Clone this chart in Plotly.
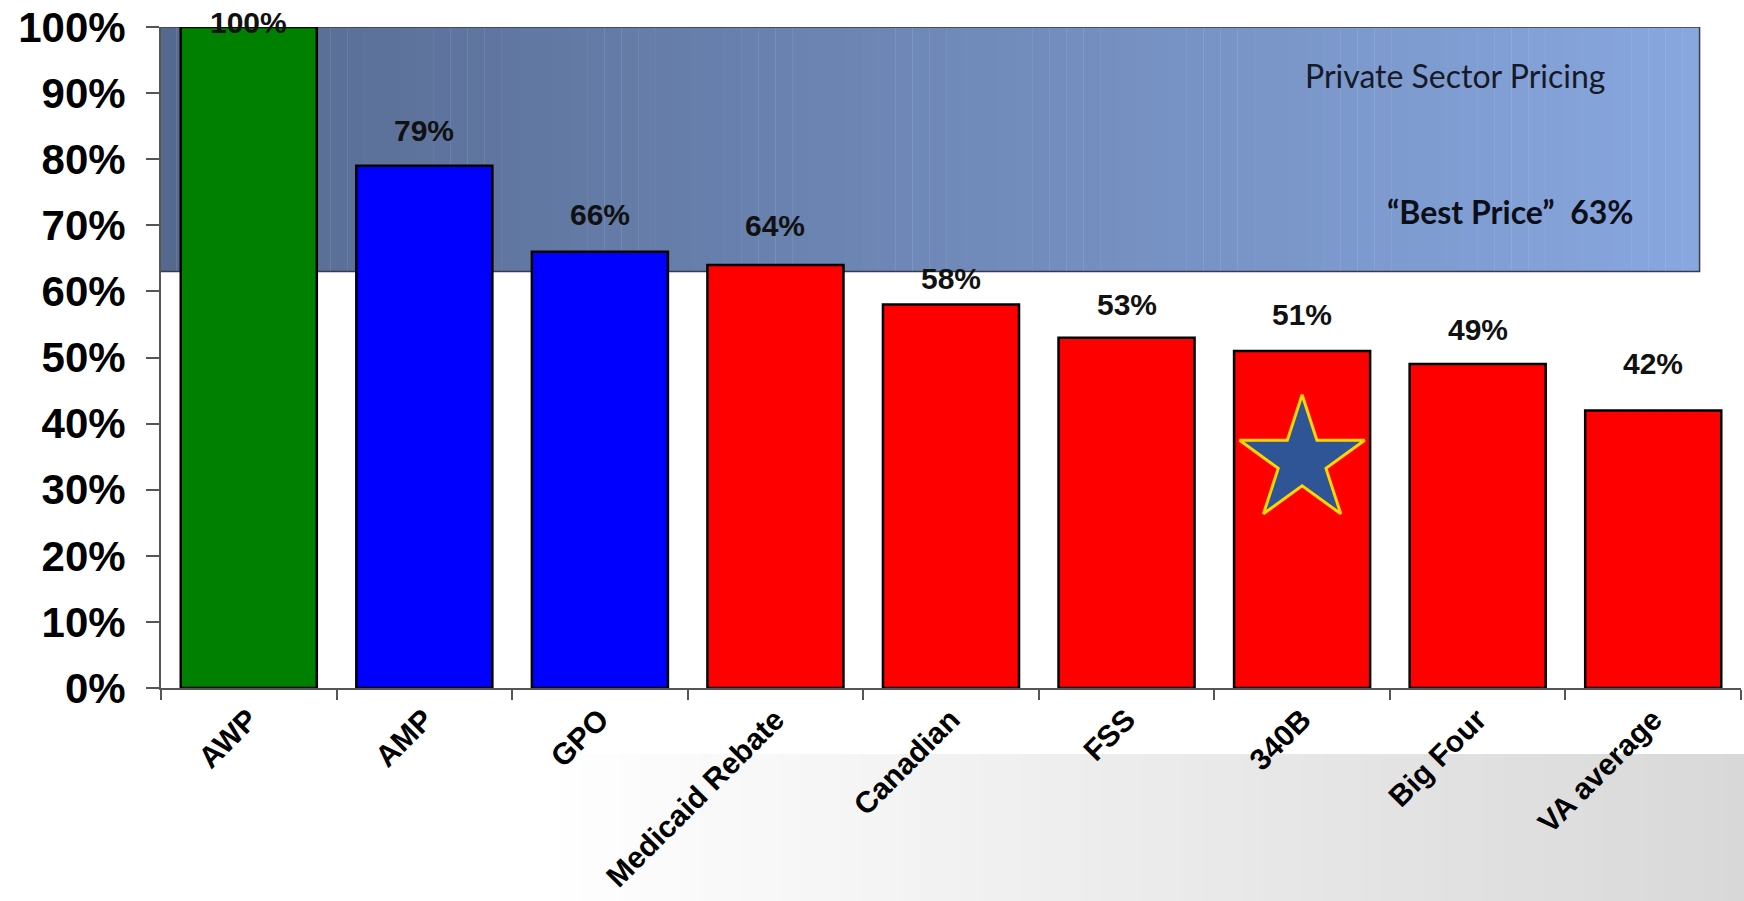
import plotly.graph_objects as go

# ---- data ----
categories = ["AWP", "AMP", "GPO", "Medicaid Rebate", "Canadian", "FSS", "340B", "Big Four", "VA average"]
values = [100, 79, 66, 64, 58, 53, 51, 49, 42]
bar_colors = ["#008000", "#0000ff", "#0000ff", "#ff0000", "#ff0000", "#ff0000", "#ff0000", "#ff0000", "#ff0000"]
y_ticks = [0, 10, 20, 30, 40, 50, 60, 70, 80, 90, 100]
best_price = 63
band_top = 100
band_title = "Private Sector Pricing"
band_label = "\u201cBest Price\u201d\u00a0\u00a0" + str(best_price) + "%"
star_category = "340B"
star_value = 34.4

# label lift above bar tops (styling, px)
label_lift_px = [5, 35, 37, 39, 26, 33, 36, 35, 47]

W, H = 1744, 901
ML, MR, MT, MB = 161, 3, 27, 213

fig = go.Figure()

fig.add_trace(go.Bar(
    x=categories, y=values,
    marker=dict(color=bar_colors, line=dict(color="#000000", width=2.5)),
    hoverinfo="x+y", showlegend=False,
))

fig.add_trace(go.Scatter(
    x=[star_category], y=[star_value], mode="markers",
    marker=dict(symbol="star", size=94, color="#2f5597",
                line=dict(color="#ffd700", width=3)),
    showlegend=False, hoverinfo="skip",
))

shapes = []

def lerp(c0, c1, t):
    return "rgb(%d,%d,%d)" % tuple(round(a + (b - a) * t) for a, b in zip(c0, c1))

# gradient band (Private Sector Pricing)
bx0, bx1 = -0.51, 8.264
n = 90
c_left, c_right = (85, 105, 143), (136, 167, 223)
for i in range(n):
    xa = bx0 + (bx1 - bx0) * i / n
    xb = bx0 + (bx1 - bx0) * (i + 1) / n + 0.002
    shapes.append(dict(type="rect", xref="x", yref="y", x0=xa, x1=xb,
                       y0=best_price, y1=band_top, layer="below",
                       fillcolor=lerp(c_left, c_right, (i + 0.5) / n),
                       line=dict(width=0)))
shapes.append(dict(type="rect", xref="x", yref="y", x0=bx0, x1=bx1,
                   y0=best_price, y1=band_top, layer="below",
                   fillcolor="rgba(0,0,0,0)", line=dict(color="#343c4e", width=1.5)))

# gray gradient footer
plot_w = W - ML - MR
plot_h = H - MT - MB
gx0 = (540 - ML) / plot_w
gx1 = (W - ML) / plot_w
gy1 = -(754 - (H - MB)) / plot_h
gy0 = -(MB + 2) / plot_h
m = 60
g_left, g_right = (255, 255, 255), (216, 216, 216)
for i in range(m):
    xa = gx0 + (gx1 - gx0) * i / m
    xb = gx0 + (gx1 - gx0) * (i + 1) / m + 0.001
    shapes.append(dict(type="rect", xref="paper", yref="paper", x0=xa, x1=xb,
                       y0=gy0, y1=gy1, layer="below",
                       fillcolor=lerp(g_left, g_right, (i + 0.5) / m),
                       line=dict(width=0)))

annotations = []
for cat, v, lift in zip(categories, values, label_lift_px):
    annotations.append(dict(x=cat, y=v, xref="x", yref="y", text=f"{v}%",
                            showarrow=False, yanchor="middle", yshift=lift,
                            font=dict(family="Arial, Liberation Sans", size=30,
                                      color="#111111", weight="bold")))

annotations.append(dict(x=(1455 - ML) / plot_w, y=(H - MB - 76) / plot_h,
                        xref="paper", yref="paper", text=band_title, showarrow=False,
                        xanchor="center", yanchor="middle",
                        font=dict(family="Lato", size=32, color="#161a26")))
annotations.append(dict(x=(1510 - ML) / plot_w, y=(H - MB - 211) / plot_h,
                        xref="paper", yref="paper", text=band_label, showarrow=False,
                        xanchor="center", yanchor="middle",
                        font=dict(family="Lato", size=32, color="#0d0f18", weight="bold")))

fig.update_layout(
    width=W, height=H,
    margin=dict(l=ML, r=MR, t=MT, b=MB, pad=0),
    plot_bgcolor="#ffffff", paper_bgcolor="#ffffff",
    bargap=0.225,
    shapes=shapes, annotations=annotations,
    showlegend=False,
    xaxis=dict(
        type="category", range=[-0.5, 8.5],
        showline=True, linecolor="#555555", linewidth=2,
        ticks="outside", tickson="boundaries", ticklen=10, tickcolor="#555555", tickwidth=1.5,
        tickangle=-45, showgrid=False,
        tickfont=dict(family="Arial, Liberation Sans", size=30, color="#000000", weight="bold"),
    ),
    yaxis=dict(
        range=[0, 100], tickvals=y_ticks, ticktext=[f"{t}%" for t in y_ticks],
        showline=True, linecolor="#555555", linewidth=2,
        ticks="outside", ticklen=13, tickcolor="#555555", tickwidth=1.5,
        showgrid=False, zeroline=False, ticklabelstandoff=12,
        tickfont=dict(family="Arial, Liberation Sans", size=42, color="#000000", weight="bold"),
    ),
)

fig.write_html("out.html", config={"displayModeBar": False},
               post_script="document.body.style.margin='0';document.body.style.overflow='hidden';")
